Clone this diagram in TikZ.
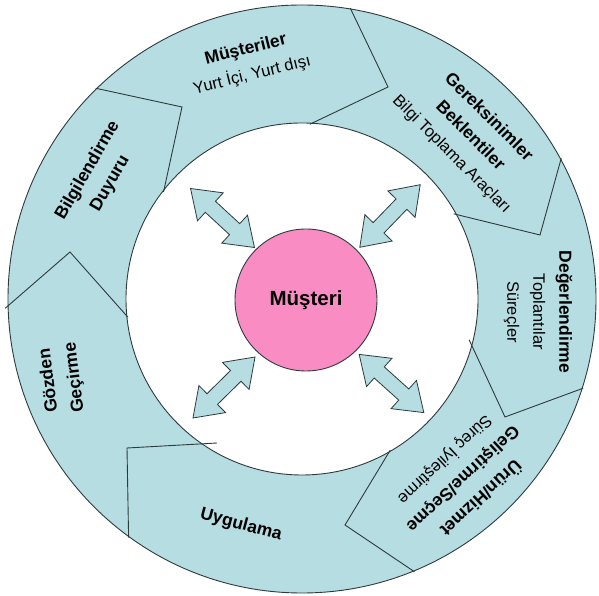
\documentclass[tikz,border=0pt]{standalone}
\usepackage{fontspec}
\setmainfont{Liberation Sans}
\usetikzlibrary{calc}
\definecolor{ringblue}{HTML}{B6DDE2}
\definecolor{pinkc}{HTML}{F98DC3}
\definecolor{edgec}{HTML}{2E3A3C}
\newcommand\headtxt[1]{{\bfseries\fontsize{17.5}{26}\selectfont #1}}
\begin{document}
\begin{tikzpicture}[x=1pt,y=1pt,
  lbl/.style={align=center, inner sep=0pt, font=\fontsize{16.5}{26}\selectfont},
  ringline/.style={draw=edgec, line width=0.9pt, line join=miter},
  arrowstyle/.style={draw=edgec, fill=ringblue, line width=0.8pt, line join=miter},
  dblarr/.pic={\draw[arrowstyle] (-43.5,0) -- (-16.5,19) -- (-16.5,7.5) -- (16.5,7.5) -- (16.5,19) -- (43.5,0) -- (16.5,-19) -- (16.5,-7.5) -- (-16.5,-7.5) -- (-16.5,-19) -- cycle;}
]
\useasboundingbox (0,0) rectangle (599,596);
\coordinate (C) at (302,297);
% ring
\fill[ringblue] (C) circle[radius=294];
\draw[ringline] (C) circle[radius=294];
\draw[ringline, fill=white] (C) circle[radius=176];
% chevron boundaries
\coordinate (t1) at (182,489);
\coordinate (t2) at (388,509);
\coordinate (t3) at (540,361);
\coordinate (t4) at (505,179);
\coordinate (t5) at (345,71);
\coordinate (t6) at (127,148);
\coordinate (t7) at (70,344);
\coordinate (i6) at (217,153);
\draw[ringline] ($(C)+(134.4:295)$) -- (t1) -- ($(C)+(142.3:175)$);
\draw[ringline] ($(C)+(80.6:295)$) -- (t2) -- ($(C)+(87.4:175)$);
\draw[ringline] ($(C)+(28.5:295)$) -- (t3) -- ($(C)+(29.3:174)$);
\draw[ringline] ($(C)+(-17.6:295)$) -- (t4) -- ($(C)+(-13.7:172)$);
\draw[ringline] ($(C)+(-67.6:295)$) -- (t5) -- ($(C)+(-59.7:175)$);
\draw[ringline] ($(C)+(234:295)$) -- (t6) -- (i6);
\draw[ringline] ($(C)+(181.8:297)$) -- (t7) -- ($(C)+(186:175)$);
% labels
\node[lbl, rotate=14] (l1) at (249,533.5) {\headtxt{Müşteriler}\\Yurt İçi, Yurt dışı};
\node[lbl, rotate=-45] (l2) at (470,460) {\headtxt{Gereksinimler}\\\headtxt{Beklentiler}\\Bilgi Toplama Araçları};
\node[lbl, rotate=-90] (l3) at (538,284) {\headtxt{Değerlendirme}\\Toplantılar\\Süreçler};
\node[lbl, rotate=-137] (l4) at (463,117) {\headtxt{Ürün/Hizmet}\\\headtxt{Geliştirme/Seçme}\\Süreç İyileştirme};
\node[lbl, rotate=-15] (l5) at (241,71) {\headtxt{Uygulama}};
\node[lbl, rotate=97] (l6) at (62,217) {\headtxt{Gözden}\\\headtxt{Geçirme}};
\node[lbl, rotate=60] (l7) at (99,419) {\headtxt{Bilgilendirme}\\\headtxt{Duyuru}};
% center
\node[circle, draw=edgec, line width=0.9pt, fill=pinkc, minimum size=142pt, inner sep=0pt,
  font=\bfseries\fontsize{20.5}{24}\selectfont] (mus) at (306,296) {Müşteri};
% double arrows
\pic[rotate=-42.7] at (222.5,378) {dblarr};
\pic[rotate=46] at (390,380) {dblarr};
\pic[rotate=44.5] at (224,208.5) {dblarr};
\pic[rotate=-42] at (391.5,212.5) {dblarr};
\end{tikzpicture}
\end{document}
